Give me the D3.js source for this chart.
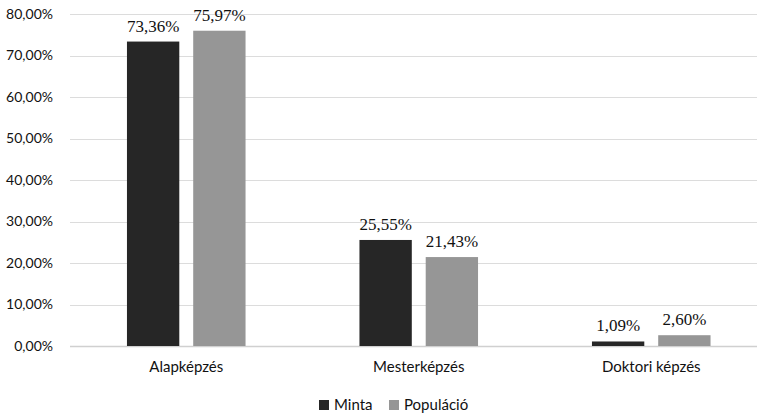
<!DOCTYPE html>
<html>
<head>
<meta charset="utf-8">
<script src="https://cdn.jsdelivr.net/npm/d3@7"></script>
<style>
  body { margin: 0; background: #fff; }
  .tick text { font-family: Lato, sans-serif; fill: #111; }
  .label-value { font-family: "Liberation Serif", serif; font-size: 17px; fill: #111; }
</style>
</head>
<body>
<div id="chart"></div>
<script>
const categories = ["Alapképzés", "Mesterképzés", "Doktori képzés"];
const seriesNames = ["Minta", "Populáció"];
const minta = [73.36, 25.55, 1.09];
const populacio = [75.97, 21.43, 2.60];
const yTicks = [0, 10, 20, 30, 40, 50, 60, 70, 80];

const WIDTH = 759;
const HEIGHT = 415;
const colors = ["#262626", "#969696"];
const margin = { top: 14, right: 0, bottom: 69, left: 70 };

const svg = d3.select("#chart").append("svg")
    .attr("width", WIDTH)
    .attr("height", HEIGHT);

const plotBottom = HEIGHT - margin.bottom;

const y = d3.scaleLinear()
    .domain([0, 80])
    .range([plotBottom, margin.top]);

// category step is a bit wider than the visible area (the last group sits near the edge)
const x0 = d3.scaleBand()
    .domain(categories)
    .range([margin.left, 767.5])
    .paddingInner(0.49)
    .paddingOuter(0.245);

const x1 = d3.scaleBand()
    .domain(seriesNames)
    .range([0, x0.bandwidth()])
    .paddingInner(0.21)
    .paddingOuter(0);

const fmt = v => v.toFixed(2).replace(".", ",") + "%";

// grid
svg.append("g")
    .selectAll("line")
    .data(yTicks)
    .enter().append("line")
    .attr("x1", margin.left)
    .attr("x2", WIDTH - 2)
    .attr("y1", d => Math.round(y(d)) + 0.5)
    .attr("y2", d => Math.round(y(d)) + 0.5)
    .attr("stroke", d => d === 0 ? "#d0d0d0" : "#dcdcdc")
    .attr("stroke-width", d => d === 0 ? 1.5 : 1);

// y axis labels
const yAxis = svg.append("g")
    .attr("transform", "translate(" + (margin.left - 17) + ",0)")
    .call(d3.axisLeft(y).tickValues(yTicks).tickSize(0).tickFormat(d => fmt(d)));
yAxis.select(".domain").remove();
yAxis.selectAll("text").attr("font-size", 14).attr("x", 0);

// x axis labels
const xAxis = svg.append("g")
    .attr("transform", "translate(0," + plotBottom + ")")
    .call(d3.axisBottom(x0).tickSize(0));
xAxis.select(".domain").remove();
xAxis.selectAll("text").attr("font-size", 15).attr("dy", "1.5em");

const rows = categories.map((c, i) => ({ key: c, values: [minta[i], populacio[i]] }));

const groups = svg.append("g")
    .selectAll("g")
    .data(rows)
    .enter().append("g")
    .attr("transform", d => "translate(" + x0(d.key) + ",0)");

const bars = groups.selectAll("g")
    .data(d => d.values.map((v, j) => ({ name: seriesNames[j], value: v, idx: j })))
    .enter().append("g");

bars.append("rect")
    .attr("x", d => x1(d.name))
    .attr("width", x1.bandwidth())
    .attr("y", d => y(d.value))
    .attr("height", d => plotBottom - y(d.value))
    .attr("fill", d => colors[d.idx]);

bars.append("text")
    .attr("class", "label-value")
    .attr("text-anchor", "middle")
    .attr("x", d => x1(d.name) + x1.bandwidth() / 2)
    .attr("y", d => y(d.value) - 10)
    .text(d => fmt(d.value));

// legend
const legend = svg.append("g")
    .attr("transform", "translate(319," + 405 + ")");
const legendX = [0, 70];
const items = legend.selectAll("g")
    .data(seriesNames)
    .enter().append("g")
    .attr("transform", (d, i) => "translate(" + legendX[i] + ",0)");
items.append("rect")
    .attr("x", 0).attr("y", -5)
    .attr("width", 10).attr("height", 10)
    .attr("fill", (d, i) => colors[i]);
items.append("text")
    .attr("x", 15)
    .attr("dy", "0.35em")
    .attr("font-family", "Lato, sans-serif")
    .attr("font-size", 15)
    .attr("fill", "#111")
    .text(d => d);
</script>
</body>
</html>
